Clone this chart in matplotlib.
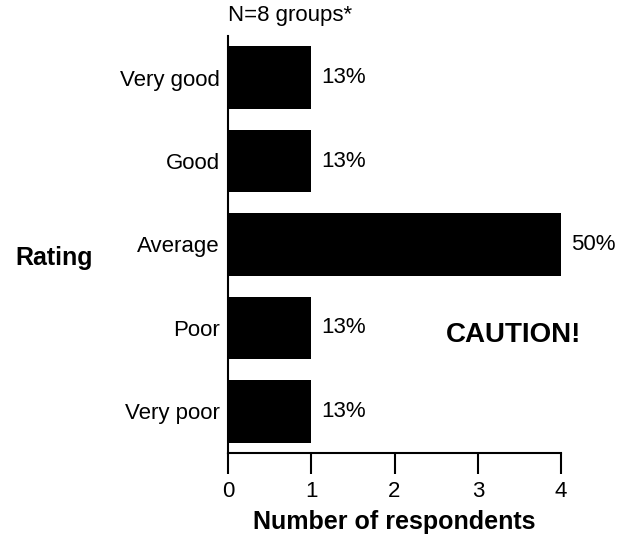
import matplotlib
matplotlib.use('Agg')
import matplotlib.pyplot as plt

plt.rcParams['font.family'] = ['Liberation Sans', 'DejaVu Sans']

ratings = ['Very poor', 'Poor', 'Average', 'Good', 'Very good']
counts = [1, 1, 4, 1, 1]
pct_labels = ['13%', '13%', '50%', '13%', '13%']

fig = plt.figure(figsize=(6.29, 5.42), dpi=100)
ax = fig.add_axes([0.3625, 0.1642, 0.5295, 0.7694])

pos = list(range(len(ratings)))
ax.barh(pos, counts, height=0.75, color='black')
for p, c, lab in zip(pos, counts, pct_labels):
    ax.text(c + 0.12, p, lab, va='center', ha='left', fontsize=16)

ax.set_xlim(0, 4)
ax.set_ylim(-0.5, 4.5)
ax.set_yticks(pos)
ax.set_yticklabels(ratings, fontsize=16)
ax.set_xticks([0, 1, 2, 3, 4])
ax.tick_params(axis='x', length=15, width=1.5, labelsize=16, pad=5)
ax.tick_params(axis='y', length=0, pad=6)
for s in ['top', 'right']:
    ax.spines[s].set_visible(False)
ax.spines['left'].set_linewidth(1.5)
ax.spines['bottom'].set_linewidth(1.5)

ax.set_xlabel('Number of respondents', fontsize=18, fontweight='bold', labelpad=6)
fig.text(0.024, 0.524, 'Rating', fontsize=18, fontweight='bold', va='center', ha='left')
fig.text(0.362, 0.972, 'N=8 groups*', fontsize=16, va='center', ha='left')
fig.text(0.709, 0.382, 'CAUTION!', fontsize=20, fontweight='bold', va='center', ha='left')

fig.savefig('out.png', dpi=100)
